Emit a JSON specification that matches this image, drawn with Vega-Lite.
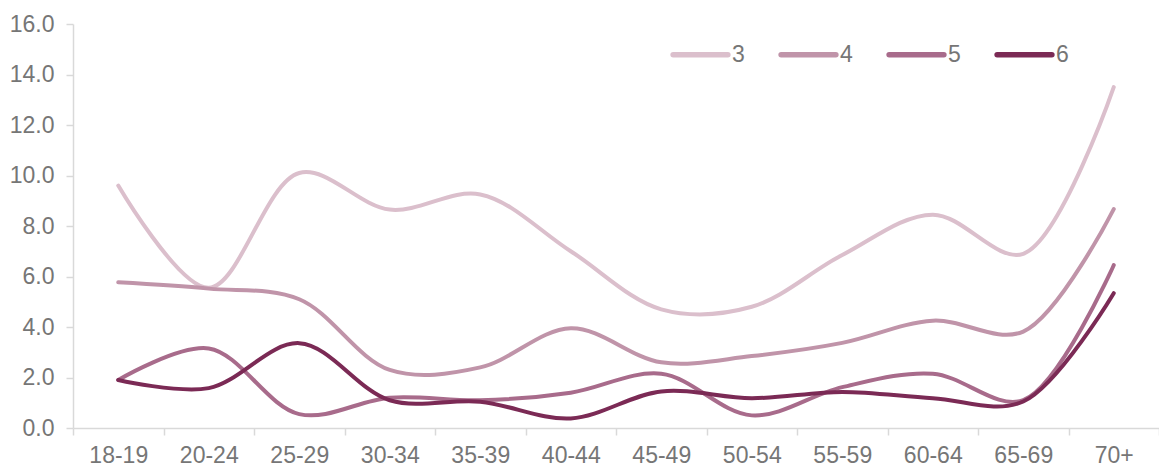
{
  "$schema": "https://vega.github.io/schema/vega-lite/v6.json",
  "width": 1086,
  "height": 404,
  "autosize": {"type": "none"},
  "padding": {"left": 73, "top": 24, "right": 0, "bottom": 39},
  "background": "white",
  "config": {
    "view": {"stroke": null},
    "font": "Liberation Sans"
  },
  "data": {
    "values": [
      {"age": "18-19", "series": "3", "value": 9.6},
      {"age": "20-24", "series": "3", "value": 5.55},
      {"age": "25-29", "series": "3", "value": 10.1},
      {"age": "30-34", "series": "3", "value": 8.65},
      {"age": "35-39", "series": "3", "value": 9.25},
      {"age": "40-44", "series": "3", "value": 7.0},
      {"age": "45-49", "series": "3", "value": 4.7},
      {"age": "50-54", "series": "3", "value": 4.8},
      {"age": "55-59", "series": "3", "value": 6.85},
      {"age": "60-64", "series": "3", "value": 8.45},
      {"age": "65-69", "series": "3", "value": 6.9},
      {"age": "70+", "series": "3", "value": 13.5},
      {"age": "18-19", "series": "4", "value": 5.77},
      {"age": "20-24", "series": "4", "value": 5.52},
      {"age": "25-29", "series": "4", "value": 5.1},
      {"age": "30-34", "series": "4", "value": 2.3},
      {"age": "35-39", "series": "4", "value": 2.4},
      {"age": "40-44", "series": "4", "value": 3.95},
      {"age": "45-49", "series": "4", "value": 2.6},
      {"age": "50-54", "series": "4", "value": 2.85},
      {"age": "55-59", "series": "4", "value": 3.37},
      {"age": "60-64", "series": "4", "value": 4.25},
      {"age": "65-69", "series": "4", "value": 3.82},
      {"age": "70+", "series": "4", "value": 8.67},
      {"age": "18-19", "series": "5", "value": 1.9},
      {"age": "20-24", "series": "5", "value": 3.15},
      {"age": "25-29", "series": "5", "value": 0.55},
      {"age": "30-34", "series": "5", "value": 1.2},
      {"age": "35-39", "series": "5", "value": 1.1},
      {"age": "40-44", "series": "5", "value": 1.4},
      {"age": "45-49", "series": "5", "value": 2.15},
      {"age": "50-54", "series": "5", "value": 0.5},
      {"age": "55-59", "series": "5", "value": 1.62},
      {"age": "60-64", "series": "5", "value": 2.15},
      {"age": "65-69", "series": "5", "value": 1.1},
      {"age": "70+", "series": "5", "value": 6.45},
      {"age": "18-19", "series": "6", "value": 1.9},
      {"age": "20-24", "series": "6", "value": 1.58},
      {"age": "25-29", "series": "6", "value": 3.36},
      {"age": "30-34", "series": "6", "value": 1.1},
      {"age": "35-39", "series": "6", "value": 1.04},
      {"age": "40-44", "series": "6", "value": 0.38},
      {"age": "45-49", "series": "6", "value": 1.45},
      {"age": "50-54", "series": "6", "value": 1.18},
      {"age": "55-59", "series": "6", "value": 1.43},
      {"age": "60-64", "series": "6", "value": 1.18},
      {"age": "65-69", "series": "6", "value": 1.05},
      {"age": "70+", "series": "6", "value": 5.34}
    ]
  },
  "mark": {"type": "line", "interpolate": "catmull-rom", "strokeWidth": 4, "strokeCap": "round", "strokeJoin": "round"},
  "encoding": {
    "x": {
      "field": "age",
      "type": "ordinal",
      "sort": ["18-19","20-24","25-29","30-34","35-39","40-44","45-49","50-54","55-59","60-64","65-69","70+"],
      "bandPosition": 0.5,
      "scale": {"type": "band", "paddingInner": 0, "paddingOuter": 0},
      "axis": {
        "title": null,
        "labelAngle": 0,
        "tickBand": "extent",
        "tickSize": 7,
        "tickColor": "#d9d9d9",
        "domainColor": "#d9d9d9",
        "domainWidth": 1.5,
        "tickWidth": 1.5,
        "labelFontSize": 23,
        "labelColor": "#767676",
        "labelPadding": 9,
        "grid": false
      }
    },
    "y": {
      "field": "value",
      "type": "quantitative",
      "scale": {"domain": [0, 16], "nice": false},
      "axis": {
        "title": null,
        "values": [0, 2, 4, 6, 8, 10, 12, 14, 16],
        "format": ".1f",
        "tickSize": 7,
        "tickColor": "#d9d9d9",
        "domainColor": "#d9d9d9",
        "domainWidth": 1.5,
        "tickWidth": 1.5,
        "labelFontSize": 23,
        "labelColor": "#767676",
        "labelPadding": 12,
        "grid": false
      }
    },
    "color": {
      "field": "series",
      "type": "nominal",
      "scale": {"domain": ["3","4","5","6"], "range": ["#dbbfcc","#c094a9","#a86b8b","#7b2a55"]},
      "legend": {
        "title": null,
        "orient": "none",
        "legendX": 597,
        "legendY": 0,
        "direction": "horizontal",
        "columns": 4,
        "symbolType": "stroke",
        "symbolSize": 3000,
        "symbolStrokeWidth": 5.5,
        "labelFontSize": 23,
        "labelColor": "#767676",
        "labelOffset": 1,
        "columnPadding": 25,
        "encode": {"symbols": {"update": {"strokeCap": {"value": "round"}}}}
      }
    }
  }
}
